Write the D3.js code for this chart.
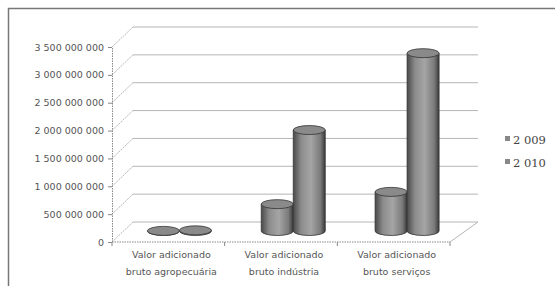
<!DOCTYPE html>
<html>
<head>
<meta charset="utf-8">
<script src="https://cdn.jsdelivr.net/npm/d3@7"></script>
<style>
  body { margin: 0; background: #fff; }
  svg { display: block; }
</style>
</head>
<body>
<div id="chart"></div>
<script>
// data
const categories = [
  ["Valor adicionado", "bruto agropecuária"],
  ["Valor adicionado", "bruto indústria"],
  ["Valor adicionado", "bruto serviços"]
];
const seriesNames = ["2 009", "2 010"];
const values2009 = [20000000, 500000000, 720000000];
const values2010 = [30000000, 1830000000, 3210000000];
const yTicks = [0, 500000000, 1000000000, 1500000000, 2000000000, 2500000000, 3000000000, 3500000000];

const W = 555, H = 286;
const svg = d3.select("#chart").append("svg")
    .attr("width", W)
    .attr("height", H);

// frame of the scanned picture
svg.append("path")
    .attr("d", "M8.5,286 V8.5 H555")
    .attr("fill", "none")
    .attr("stroke", "#777")
    .attr("stroke-width", 1.5);

// front plane and back wall scales (3d look)
const depthY = 20;
const yFront = d3.scaleLinear().domain([0, 3500000000]).range([242, 47]);
const xFront = d3.scaleBand().domain(d3.range(categories.length)).range([112, 450]);
const xBack = d3.scaleBand().domain(d3.range(categories.length)).range([133, 478]);
const yAt = (v, t) => yFront(v) - t * depthY;
const xAt = (i, t) => xFront(i) + xFront.bandwidth() / 2 + t * ((xBack(i) + xBack.bandwidth() / 2) - (xFront(i) + xFront.bandwidth() / 2));

const grid = svg.append("g").attr("stroke", "#b5b5b5").attr("fill", "none");

// back wall gridlines
yTicks.forEach(v => {
  grid.append("line")
      .attr("x1", 133).attr("x2", 478)
      .attr("y1", yAt(v, 1)).attr("y2", yAt(v, 1));
  // side wall diagonals
  grid.append("line")
      .attr("x1", 112).attr("y1", yFront(v))
      .attr("x2", 133).attr("y2", yAt(v, 1))
      .attr("stroke-dasharray", "2,1");
});

// floor
grid.append("line")
    .attr("x1", 450).attr("y1", yFront(0))
    .attr("x2", 478).attr("y2", yAt(0, 1));
svg.append("line")
    .attr("x1", 112).attr("x2", 450)
    .attr("y1", yFront(0)).attr("y2", yFront(0))
    .attr("stroke", "#888")
    .attr("stroke-dasharray", "1.5,1");

// category tick marks on the floor edge
d3.range(categories.length + 1).forEach(i => {
  const x = i < categories.length ? xFront(i) : 450;
  svg.append("line")
      .attr("x1", x).attr("x2", x)
      .attr("y1", yFront(0)).attr("y2", yFront(0) + 4)
      .attr("stroke", "#888");
});

// y axis
const fr = d3.formatLocale({ decimal: ",", thousands: " ", grouping: [3], currency: ["", ""] });
const yAxis = svg.append("g")
    .attr("transform", "translate(112,0)")
    .call(d3.axisLeft(yFront).tickValues(yTicks).tickFormat(fr.format(",")).tickSize(4).tickPadding(4));
yAxis.select(".domain").attr("stroke", "#888").attr("stroke-dasharray", "1.5,1");
yAxis.selectAll(".tick line").attr("stroke", "#888");
yAxis.selectAll("text")
    .attr("fill", "#555")
    .style("font-family", "DejaVu Sans")
    .style("font-size", "9.5px");

// cylinders
const defs = svg.append("defs");
const grad = defs.append("linearGradient").attr("id", "cyl");
grad.append("stop").attr("offset", "0%").attr("stop-color", "#4a4a4a");
grad.append("stop").attr("offset", "25%").attr("stop-color", "#8c8c8c");
grad.append("stop").attr("offset", "55%").attr("stop-color", "#a5a5a5");
grad.append("stop").attr("offset", "85%").attr("stop-color", "#7a7a7a");
grad.append("stop").attr("offset", "100%").attr("stop-color", "#3a3a3a");

const cw = 32, ry = 4.5;
const bars = [];
categories.forEach((c, i) => {
  bars.push({ i: i, s: 0, v: values2009[i] });
  bars.push({ i: i, s: 1, v: values2010[i] });
});

const cyl = svg.append("g").selectAll("g")
  .data(bars)
  .join("g");

cyl.each(function(d) {
  const g = d3.select(this);
  const cx = xAt(d.i, 0.5) + (d.s === 0 ? -cw / 2 : cw / 2);
  const yb = yAt(0, 0.5) - 1;
  const yt = yAt(d.v, 0.5);
  const x0 = cx - cw / 2, x1 = cx + cw / 2;
  g.append("path")
      .attr("d", `M${x0},${yt} V${yb} A${cw / 2},${ry} 0 0 0 ${x1},${yb} V${yt} Z`)
      .attr("fill", "url(#cyl)")
      .attr("stroke", "#333")
      .attr("stroke-width", 0.8);
  g.append("ellipse")
      .attr("cx", cx).attr("cy", yt)
      .attr("rx", cw / 2).attr("ry", ry)
      .attr("fill", "#8a8a8a")
      .attr("stroke", "#333")
      .attr("stroke-width", 0.8);
});

// category labels
const lab = svg.append("g")
    .attr("fill", "#555")
    .style("font-family", "DejaVu Sans")
    .style("font-size", "9.5px")
    .attr("text-anchor", "middle");
categories.forEach((c, i) => {
  c.forEach((line, k) => {
    lab.append("text")
        .attr("x", xFront(i) + xFront.bandwidth() / 2 + 3)
        .attr("y", 258 + k * 17)
        .text(line);
  });
});

// legend
const leg = svg.append("g")
    .style("font-family", "DejaVu Serif")
    .style("font-size", "11.5px")
    .attr("fill", "#444");
seriesNames.forEach((s, k) => {
  leg.append("rect")
      .attr("x", 505).attr("y", 136 + k * 23)
      .attr("width", 5).attr("height", 5)
      .attr("fill", "#888");
  leg.append("text")
      .attr("x", 513).attr("y", 144 + k * 23)
      .text(s);
});
</script>
</body>
</html>
